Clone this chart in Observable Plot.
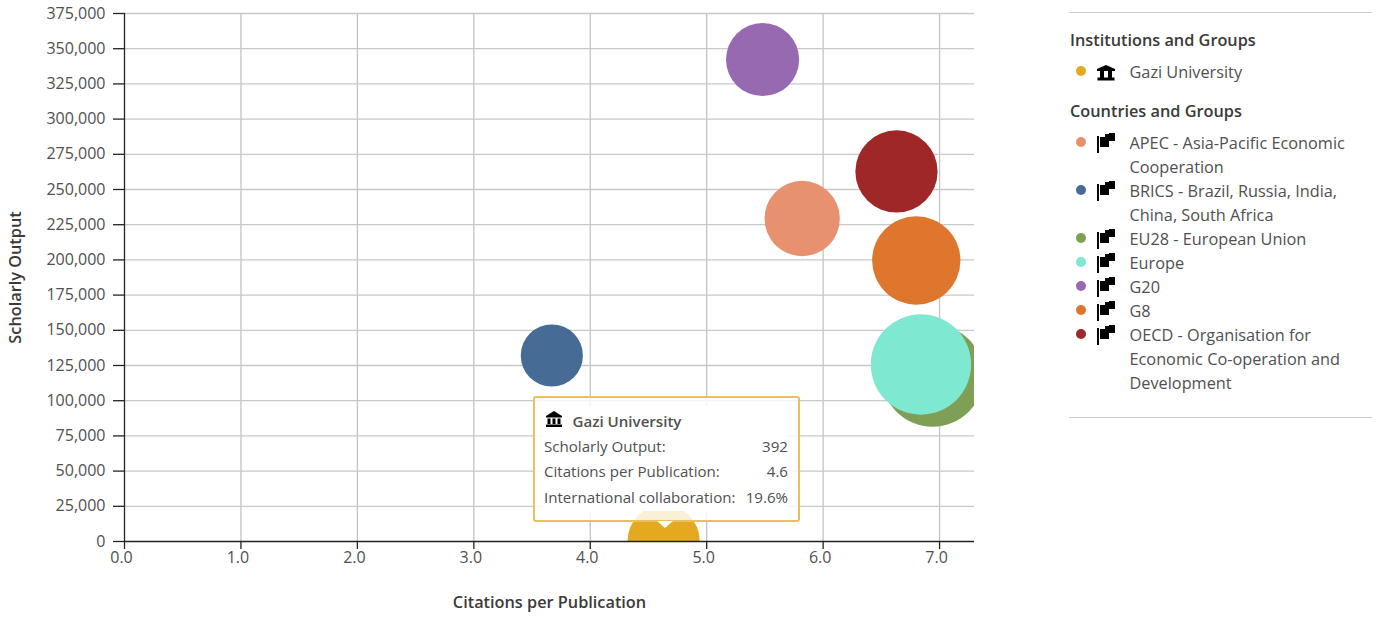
<!DOCTYPE html>
<html>
<head>
<meta charset="utf-8">
<script src="https://cdn.jsdelivr.net/npm/d3@7"></script>
<script src="https://cdn.jsdelivr.net/npm/@observablehq/plot@0.6"></script>
<style>
html,body{margin:0;padding:0;background:#fff;font-family:"Open Sans",sans-serif;color:#505050;overflow:hidden}
#wrap{position:relative;width:1387px;height:617px}
#chart{position:absolute;left:0;top:0}
#chart svg{display:block}
#legend{position:absolute;left:1069px;top:12px;width:303px;height:406px;border-top:1px solid #ccc;border-bottom:1px solid #ccc;box-sizing:border-box;font-size:16.3px;line-height:24px}
#legend h4{position:absolute;left:1px;margin:0;font-size:16.3px;font-weight:600;color:#3a3a3a;line-height:24px;white-space:nowrap}
.item{position:absolute;left:0;width:303px}
.item .dot{position:absolute;left:7px;top:7px;width:10px;height:10px;border-radius:50%}
.item svg{position:absolute;left:28px;top:3px}
.item .t{position:absolute;left:60.5px;top:1px;width:240px}
#tip{position:absolute;left:533px;top:395.5px;width:267px;height:126.5px;box-sizing:border-box;border:2px solid #EABF62;border-radius:3px;background:rgba(255,255,255,.82);font-size:15.1px;color:#505050}
#tip .inner{position:absolute;left:8px;top:8px;width:246px;height:105px;background:#fff;border-radius:5px}
#tip .row{position:absolute;left:9px;width:244px;display:flex;justify-content:space-between;line-height:20px;white-space:nowrap}
#tip .hd{position:absolute;left:37.5px;top:13px;font-weight:600;line-height:20px}
#tip svg{position:absolute;left:9.5px;top:12px}
#arrow{position:absolute;left:657px;top:521px;width:0;height:0;border-left:8px solid transparent;border-right:8px solid transparent;border-top:7px solid #fff}
</style>
</head>
<body>
<div id="wrap">
  <div id="chart"></div>
  <div id="tip"></div>
  <div id="arrow"></div>
  <div id="legend"></div>
</div>
<script>
const names = ["Gazi University","APEC","BRICS","EU28","Europe","G20","G8","OECD"];
const citations = [4.63,5.82,3.67,6.94,6.84,5.48,6.80,6.63];
const output = [392,229400,132100,117900,125700,342300,199600,262800];
const collaboration = [19.6,21.3,14.5,39.3,37.8,20.1,29.3,25.4];
const colors = ["#E4A91E","#E8916F","#466B94","#7E9F55","#7FE8D0","#9669B1","#DE772D","#A02727"];
const xTicks = [0,1,2,3,4,5,6,7];
const yTicks = [0,25000,50000,75000,100000,125000,150000,175000,200000,225000,250000,275000,300000,325000,350000,375000];
const institutionLabels = ["Gazi University"];
const countryLabels = ["APEC - Asia-Pacific Economic Cooperation","BRICS - Brazil, Russia, India, China, South Africa","EU28 - European Union","Europe","G20","G8","OECD - Organisation for Economic Co-operation and Development"];
const countryLines = [2,2,1,1,1,1,3];
const tipRows = [["Scholarly Output:","392"],["Citations per Publication:","4.6"],["International collaboration:","19.6%"]];

const table = names.map((name,i)=>({name,x:citations[i],y:output[i],r:collaboration[i],c:colors[i]}));
const axisStyle = {fontSize:16, fill:"#505050", stroke:"none"};

const plot = Plot.plot({
  width:1000, height:617,
  marginLeft:124, marginRight:26, marginTop:13, marginBottom:76,
  style:{fontFamily:"'Open Sans',sans-serif",fontSize:"16px",background:"transparent",overflow:"visible"},
  x:{domain:[0,7.3],label:null},
  y:{domain:[0,375000],label:null},
  r:{type:"sqrt",domain:[0,40],range:[0,51.6]},
  marks:[
    Plot.ruleX(xTicks.slice(1),{stroke:"#c4c4c4",strokeWidth:1.3,strokeOpacity:1}),
    Plot.ruleY(yTicks.slice(1),{stroke:"#c8c8c8",strokeWidth:1.3,strokeOpacity:1}),
    Plot.dot(table,{x:"x",y:"y",r:"r",fill:"c",stroke:"none",fillOpacity:1,clip:true}),
    Plot.ruleX([0],{stroke:"#222",strokeWidth:1.3}),
    Plot.ruleY([0],{stroke:"#222",strokeWidth:1.3}),
    Plot.axisX(xTicks,{tickSize:8,text:null,stroke:"#222",strokeWidth:1.3,strokeOpacity:1}),
    Plot.axisX(xTicks,{tickSize:0,tickPadding:10,dx:-3,tickFormat:d=>d3.format(".1f")(d),label:null,...axisStyle}),
    Plot.axisY(yTicks,{tickSize:11,text:null,stroke:"#222",strokeWidth:1.3,strokeOpacity:1}),
    Plot.axisY(yTicks,{tickSize:11,tickPadding:8,tickFormat:d3.format(","),label:null,...axisStyle,strokeOpacity:0}),
    Plot.text(["Citations per Publication"],{frameAnchor:"bottom",dy:66,fontWeight:600,fontSize:16.3,fill:"#3a3a3a"}),
    Plot.text(["Scholarly Output"],{frameAnchor:"left",textAnchor:"middle",dx:-109,rotate:-90,fontWeight:600,fontSize:16.3,fill:"#3a3a3a"})
  ]
});
document.getElementById("chart").append(plot);

const bank = '<svg width="18" height="18" viewBox="0 0 18 18" fill="#000"><path d="M9 1 L17 6 V7.5 H1 V6 Z"/><rect x="2.5" y="8.5" width="3" height="5.5"/><rect x="7.5" y="8.5" width="3" height="5.5"/><rect x="12.5" y="8.5" width="3" height="5.5"/><rect x="1" y="14.5" width="16" height="2.5"/></svg>';
const home = '<svg width="18" height="20" viewBox="0 0 18 20" fill="#000"><path d="M9 3 L18 7 V9 H0 V7 Z"/><rect x="3" y="9" width="4" height="7"/><rect x="11" y="9" width="4" height="7"/><rect x="0.5" y="15.5" width="17" height="3"/></svg>';
const flags = '<svg width="18" height="20" viewBox="0 0 18 20" fill="#000"><rect x="0" y="3" width="2" height="17"/><rect x="3" y="4" width="9" height="10"/><rect x="8" y="1" width="4" height="3"/><rect x="12" y="0" width="6" height="8"/></svg>';

const legend = document.getElementById("legend");
function head(text,yPos){const h=document.createElement("h4");h.textContent=text;h.style.top=yPos+"px";legend.append(h);}
function item(text,color,icon,yPos,lines){
  const d=document.createElement("div");d.className="item";d.style.top=yPos+"px";
  d.innerHTML=`<span class="dot" style="background:${color}"></span>${icon}<span class="t">${text}</span>`;
  legend.append(d);
  return yPos+lines*24;
}
head("Institutions and Groups",14.5);
item(institutionLabels[0],colors[0],home,46,1);
head("Countries and Groups",85.5);
let rowY=117;
countryLabels.forEach((label,i)=>{rowY=item(label,colors[i+1],flags,rowY,countryLines[i]);});

const tip=document.getElementById("tip");
tip.innerHTML=`<div class="inner"></div>${bank}<div class="hd">${names[0]}</div>`+
  tipRows.map((r,i)=>`<div class="row" style="top:${38+i*25.5}px"><span>${r[0]}</span><span>${r[1]}</span></div>`).join("");
</script>
</body>
</html>
